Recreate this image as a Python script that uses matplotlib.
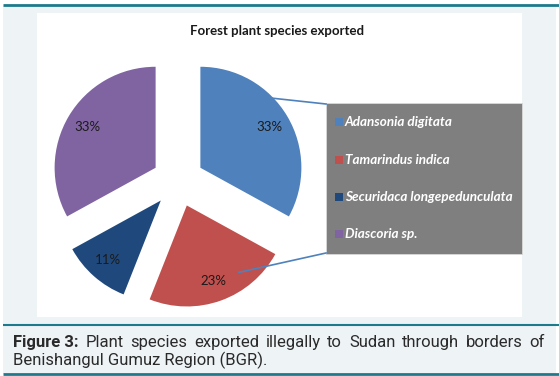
import numpy as np
import matplotlib
matplotlib.use("Agg")
import matplotlib.pyplot as plt
from matplotlib.patches import Rectangle

# ---- data ----
species = ["Adansonia digitata", "Tamarindus indica",
           "Securidaca longepedunculata", "Diascoria sp."]
shares = [33, 23, 11, 33]
colors = ["#4f81bd", "#c0504d", "#1f497d", "#8064a2"]
title = "Forest plant species exported"
caption_bold = "Figure 3:"
caption_line1 = "Plant species exported illegally to Sudan through borders of"
caption_line2 = "Benishangul Gumuz Region (BGR)."

W, H = 559, 376
fig = plt.figure(figsize=(W / 100, H / 100), dpi=100)
fig.patch.set_facecolor("white")
ax = fig.add_axes([0, 0, 1, 1])
ax.set_xlim(0, W)
ax.set_ylim(0, H)
ax.axis("off")


def Y(py):
    return H - py


TEAL = "#1d7a8c"
BG = "#eef3f6"

# page background and rules
ax.add_patch(Rectangle((3, Y(374)), 553, 369, facecolor=BG, edgecolor="none", zorder=0))
ax.plot([3, 559], [Y(5), Y(5)], color=TEAL, lw=2, zorder=1, solid_capstyle="butt")
ax.plot([3, 559], [Y(325), Y(325)], color=TEAL, lw=1.5, zorder=1, solid_capstyle="butt")
ax.plot([3, 559], [Y(374), Y(374)], color=TEAL, lw=2, zorder=1, solid_capstyle="butt")
# chart panel
ax.add_patch(Rectangle((37, Y(317)), 485, 304, facecolor="white", edgecolor="none", zorder=1))

ax.text(277, Y(31), title, ha="center", va="center", fontsize=9.5,
        fontweight="bold", family="Lato", color="#1a1a1a", zorder=3)

# pie
R = 101
wedges, texts, autotexts = ax.pie(
    shares, colors=colors, startangle=90, counterclock=False,
    center=(178, Y(181)), radius=R, explode=[26] * len(shares),
    autopct="%1.0f%%", pctdistance=0.79,
    textprops=dict(fontsize=9.5, family="Lato", color="#1a1a1a"),
    wedgeprops=dict(linewidth=0, zorder=2), frame=True)
for t in autotexts:
    t.set_zorder(4)
ax.set_xlim(0, W)
ax.set_ylim(0, H)
ax.set_aspect("auto")
ax.axis("off")

# legend box
LX, LT, LW, LH = 326, 103, 196, 151
ax.add_patch(Rectangle((LX, Y(LT + LH)), LW, LH, facecolor="#7f7f7f",
                       edgecolor="#d9d9d9", lw=0.6, zorder=3))
entry_y = [122, 159.5, 197, 234]
for name, c, ey in zip(species, colors, entry_y):
    ax.add_patch(Rectangle((335, Y(ey + 4)), 8, 8, facecolor=c, edgecolor="none", zorder=4))
    ax.text(345, Y(ey), name, ha="left", va="center", fontsize=9.7,
            family="Lato", style="italic", fontweight="bold", color="white", zorder=4)

# leader lines from wedges to legend box corners
def wedge_point(w, ang, frac):
    cx, cy = w.center
    a = np.deg2rad(ang)
    return cx + frac * R * np.cos(a), cy + frac * R * np.sin(a)

bx, by = wedge_point(wedges[0], 66, 0.80)
rx, ry = wedge_point(wedges[1], -52, 0.84)
ax.plot([bx, LX], [by, Y(LT + 1)], color="#4f81bd", lw=1.2, zorder=5)
ax.plot([rx, LX], [ry, Y(LT + LH - 1)], color="#4f81bd", lw=1.2, zorder=5)

# caption (first line justified)
fig.canvas.draw()
renderer = fig.canvas.get_renderer()
cap_kw = dict(family="Roboto", fontsize=12, color="#2a2a2a", va="baseline", zorder=5)
words = [(caption_bold, "bold")] + [(w_, "normal") for w_ in caption_line1.split()]
tobjs = []
for wtxt, wt in words:
    t = ax.text(0, Y(347), wtxt, ha="left", fontweight=wt, **cap_kw)
    tobjs.append(t)
widths = [t.get_window_extent(renderer).width for t in tobjs]
x0, x1 = 13, 545
gap = (x1 - x0 - sum(widths)) / (len(words) - 1)
x = x0
for t, wd in zip(tobjs, widths):
    t.set_x(x)
    x += wd + gap
ax.text(x0, Y(365), caption_line2, ha="left", **cap_kw)

fig.savefig("out.png", dpi=100, facecolor=fig.get_facecolor())
